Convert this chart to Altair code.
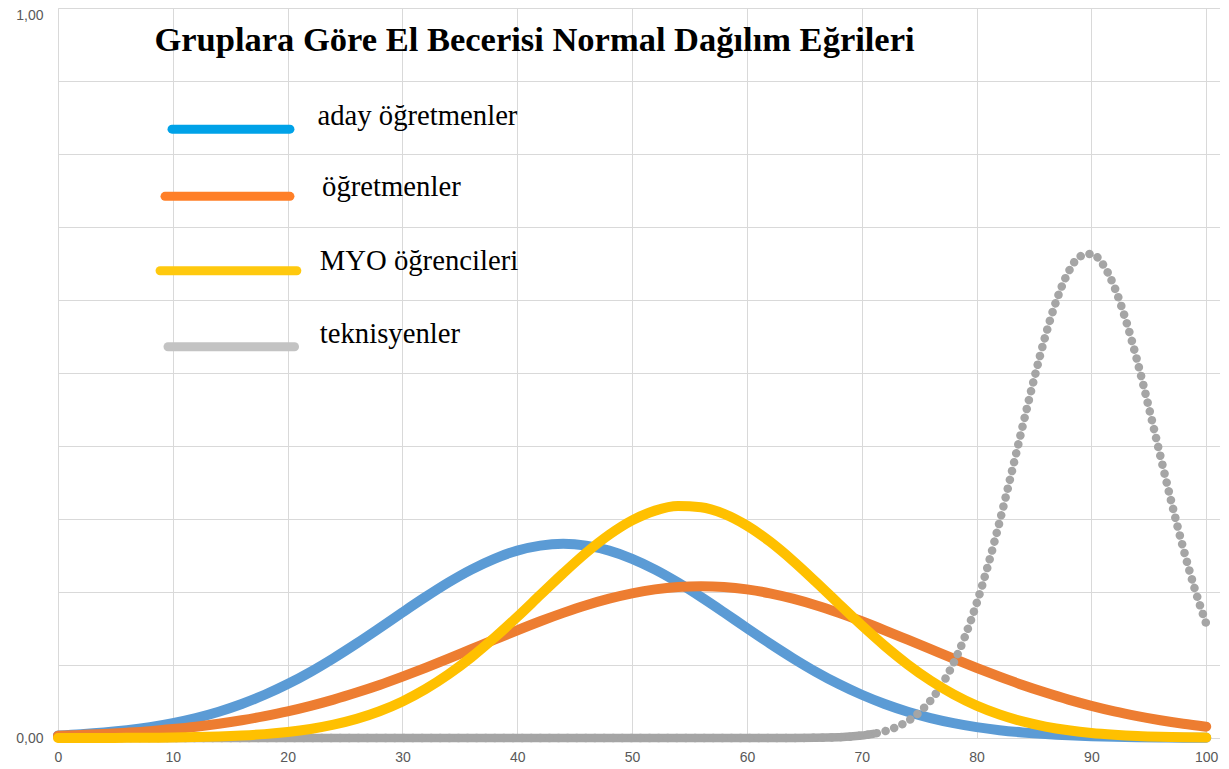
import altair as alt
import pandas as pd

# ---- data ----
x_vals = list(range(0, 101, 2))

aday_ogretmenler = [0.0036, 0.0053, 0.0076, 0.0107, 0.0149, 0.0204, 0.0273, 0.0360, 0.0466, 0.0592,
                    0.0739, 0.0907, 0.1094, 0.1295, 0.1506, 0.1721, 0.1931, 0.2130, 0.2307, 0.2455,
                    0.2567, 0.2636, 0.2660, 0.2636, 0.2567, 0.2455, 0.2307, 0.2130, 0.1931, 0.1721,
                    0.1506, 0.1295, 0.1094, 0.0907, 0.0739, 0.0592, 0.0466, 0.0360, 0.0273, 0.0204,
                    0.0149, 0.0107, 0.0076, 0.0053, 0.0036, 0.0024, 0.0016, 0.0010, 0.0007, 0.0004, 0.0003]

ogretmenler = [0.0031, 0.0042, 0.0055, 0.0073, 0.0094, 0.0122, 0.0155, 0.0195, 0.0243, 0.0300,
               0.0365, 0.0441, 0.0526, 0.0622, 0.0726, 0.0840, 0.0960, 0.1086, 0.1216, 0.1346,
               0.1475, 0.1599, 0.1714, 0.1819, 0.1909, 0.1982, 0.2036, 0.2069, 0.2080, 0.2069,
               0.2036, 0.1982, 0.1909, 0.1819, 0.1714, 0.1599, 0.1475, 0.1346, 0.1216, 0.1086,
               0.0960, 0.0840, 0.0726, 0.0622, 0.0526, 0.0441, 0.0365, 0.0300, 0.0243, 0.0195, 0.0155]

myo_ogrencileri = [0.0000, 0.0001, 0.0001, 0.0002, 0.0004, 0.0007, 0.0013, 0.0021, 0.0034, 0.0053,
                   0.0082, 0.0124, 0.0183, 0.0262, 0.0367, 0.0501, 0.0669, 0.0871, 0.1106, 0.1372,
                   0.1659, 0.1959, 0.2257, 0.2538, 0.2784, 0.2981, 0.3115, 0.3177, 0.3161, 0.3070,
                   0.2909, 0.2691, 0.2429, 0.2139, 0.1838, 0.1542, 0.1262, 0.1008, 0.0786, 0.0598,
                   0.0444, 0.0322, 0.0227, 0.0157, 0.0106, 0.0069, 0.0045, 0.0028, 0.0017, 0.0010, 0.0006]

tek_x = [0, 20, 40, 60, 62, 64, 66, 68] + list(range(69, 101))
teknisyenler = [0, 0, 0, 0, 0, 0.0001, 0.0003, 0.0011,
                0.0019, 0.0034, 0.0057, 0.0093, 0.0149, 0.0231, 0.0350, 0.0515, 0.0737, 0.1028,
                0.1395, 0.1843, 0.2368, 0.2960, 0.3602, 0.4265, 0.4914, 0.5511, 0.6013, 0.6384,
                0.6596, 0.6632, 0.6489, 0.6179, 0.5724, 0.5161, 0.4529, 0.3866, 0.3212, 0.2598,
                0.2044, 0.1565]

series_names = ["aday öğretmenler", "öğretmenler", "MYO öğrencileri", "teknisyenler"]
curve_colors = ["#5B9BD5", "#ED7D31", "#FFC000", "#A5A5A5"]
legend_colors = ["#00A2E8", "#FF7F27", "#FFC90E", "#C3C3C3"]
title_text = "Gruplara Göre El Becerisi Normal Dağılım Eğrileri"
x_ticks = list(range(0, 101, 10))
y_ticks = [round(i / 10, 1) for i in range(11)]

rows = []
for name, ys in zip(series_names[:3], [aday_ogretmenler, ogretmenler, myo_ogrencileri]):
    for x, y in zip(x_vals, ys):
        rows.append({"x": x, "y": y, "seri": name})
for x, y in zip(tek_x, teknisyenler):
    rows.append({"x": x, "y": y, "seri": series_names[3]})
df = pd.DataFrame(rows)

X = alt.X("x:Q", scale=alt.Scale(domain=[0, 101.2], nice=False, zero=False),
          axis=alt.Axis(values=x_ticks, title=None, grid=True, labelPadding=12,
                        labelFlush=False, ticks=False))
Y = alt.Y("y:Q", scale=alt.Scale(domain=[0, 1], nice=False),
          axis=alt.Axis(values=y_ticks, title=None, grid=True, ticks=False, labelPadding=15,
                        labelExpr="datum.value == 0 ? '0,00' : (datum.value == 1 ? '1,00' : '')",
                        labelBaseline={"condition": {"test": "datum.value == 1", "value": "top"},
                                       "value": "middle"}))

base = alt.Chart(df).encode(x=X, y=Y)


def curve(i, **kw):
    return base.transform_filter(alt.datum.seri == series_names[i]).mark_line(
        color=curve_colors[i], interpolate="monotone", strokeCap="round", strokeJoin="round", **kw)


blue = curve(0, strokeWidth=10)
orange = curve(1, strokeWidth=10)
gray_flat = base.transform_filter(
    "datum.seri == 'teknisyenler' && datum.x <= 71"
).mark_line(color=curve_colors[3], strokeWidth=8.5, strokeCap="round", interpolate="monotone")
gray = curve(3, strokeWidth=8.5, strokeDash=[0.1, 9])
yellow = curve(2, strokeWidth=10)

one = pd.DataFrame({"k": [0]})

# legend layout (pasted legend in data coordinates)
leg_x0 = [9.93, 9.32, 8.89, 9.58]
leg_x1 = [20.2, 20.2, 20.8, 20.6]
leg_y = [0.834, 0.742, 0.640, 0.536]
txt_x = [22.6, 23.0, 22.8, 22.8]
txt_y = [0.852, 0.755, 0.654, 0.553]

legend_layers = []
for i in range(4):
    legend_layers.append(
        alt.Chart(one).mark_rule(color=legend_colors[i], strokeWidth=9, strokeCap="round").encode(
            x=alt.datum(leg_x0[i]), x2=alt.datum(leg_x1[i]), y=alt.datum(leg_y[i]))
    )
    legend_layers.append(
        alt.Chart(one).mark_text(text=series_names[i], align="left", baseline="middle",
                                 font="Liberation Serif", fontSize=28.7, color="#000000").encode(
            x=alt.datum(txt_x[i]), y=alt.datum(txt_y[i]))
    )

title_layer = alt.Chart(one).mark_text(
    text=title_text, align="center", baseline="middle", font="Liberation Serif",
    fontWeight="bold", fontSize=34.5, color="#000000").encode(
    x=alt.datum(41.5), y=alt.datum(0.955))

chart = alt.layer(blue, orange, gray_flat, gray, yellow, title_layer, *legend_layers).properties(
    width=1162, height=730,
    padding={"left": 50, "top": 0, "right": 0, "bottom": 27},
    autosize="none",
).configure_view(strokeWidth=0).configure_axis(
    gridColor="#D9D9D9", gridWidth=1, domainColor="#D9D9D9", domainWidth=1,
    labelColor="#595959", labelFont="Liberation Sans", labelFontSize=14,
)

chart.save("out.html", embed_options={"renderer": "svg", "actions": False})
